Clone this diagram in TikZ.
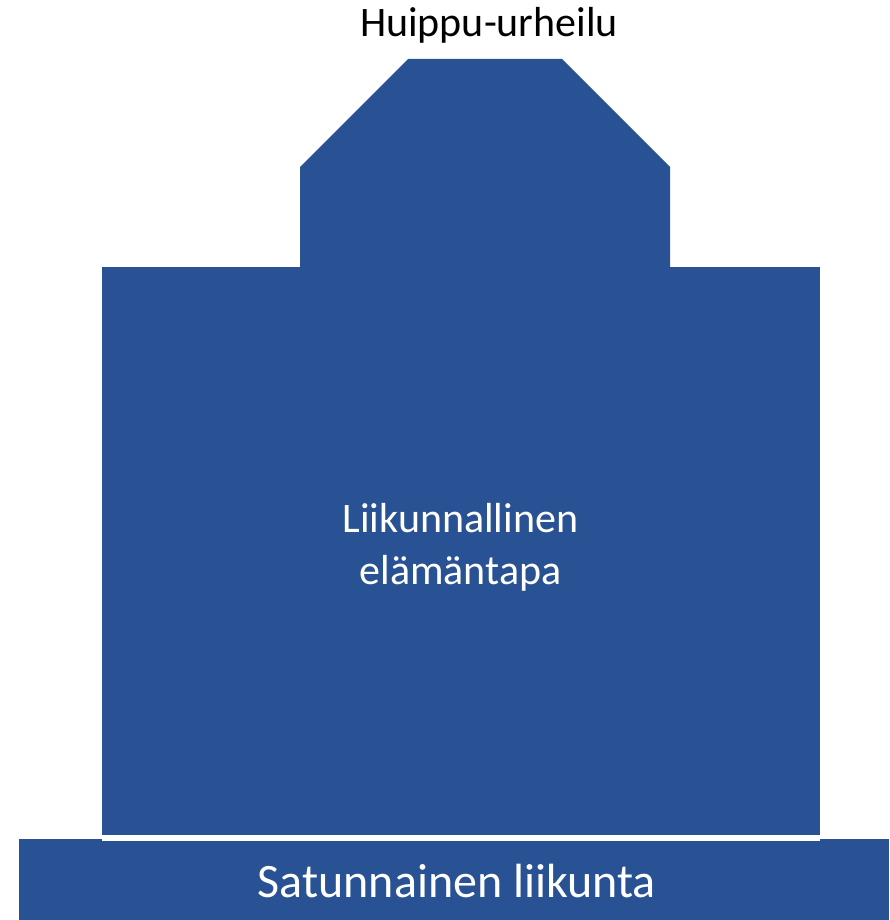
\documentclass[tikz,border=0pt]{standalone}
\usepackage{fontspec}
\setmainfont{Carlito}
\definecolor{pyramidblue}{RGB}{41,82,148}
\begin{document}
\begin{tikzpicture}[x=1pt,y=-1pt,
  block/.style={fill=pyramidblue,draw=none},
  label/.style={inner sep=0pt,anchor=base,align=center},
  bigtext/.style={label,font=\fontsize{42}{52}\selectfont},
  basetext/.style={label,font=\fontsize{48}{58}\selectfont,text=white}]
  \useasboundingbox (0,0) rectangle (889,920);
  % top level: chamfered peak
  \fill[block] (408,59) -- (562,59) -- (670,167) -- (670,268) -- (300,268) -- (300,167) -- cycle;
  % middle level
  \fill[block] (102,267) rectangle (820,836);
  % base bar
  \fill[block] (19,839) rectangle (889,920);
  % white seam between middle block and base
  \fill[white] (102,835) rectangle (820,841);
  % labels
  \node[bigtext] (peak) at (489,37) {Huippu-urheilu};
  \node[bigtext,text=white] (mid1) at (460.5,532) {Liikunnallinen};
  \node[bigtext,text=white] (mid2) at (460.5,584) {elämäntapa};
  \node[basetext] (base) at (457,897) {Satunnainen liikunta};
\end{tikzpicture}
\end{document}
